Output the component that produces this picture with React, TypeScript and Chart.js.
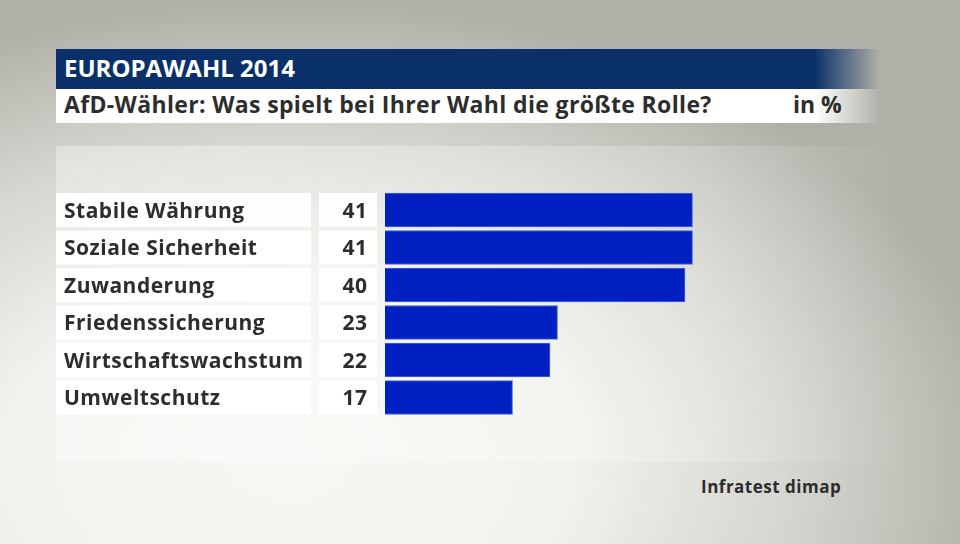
import React, { useEffect, useRef } from "react";
import { Chart, registerables } from "chart.js";

Chart.register(...registerables);

const categories = [
  "Stabile Währung",
  "Soziale Sicherheit",
  "Zuwanderung",
  "Friedenssicherung",
  "Wirtschaftswachstum",
  "Umweltschutz",
];
const values = [41, 41, 40, 23, 22, 17];
const headerText = "EUROPAWAHL 2014";
const subtitleText = "AfD-Wähler: Was spielt bei Ihrer Wahl die größte Rolle?";
const unitText = "in %";
const sourceText = "Infratest dimap";

const FONT = '"Open Sans", "DejaVu Sans", sans-serif';

const rowPlugin = {
  id: "rowBoxes",
  beforeDatasetsDraw(chart: any) {
    const ctx = chart.ctx;
    const yScale = chart.scales.y;
    ctx.save();
    categories.forEach((cat, i) => {
      const yc = yScale.getPixelForValue(i);
      const top = yc - 17;
      ctx.fillStyle = "rgba(255,255,255,0.95)";
      ctx.fillRect(56, top, 255, 34);
      ctx.fillRect(319, top, 58, 34);
      ctx.fillStyle = "#2d2d2d";
      ctx.font = `bold 21px ${FONT}`;
      (ctx as any).letterSpacing = "0.5px";
      ctx.textBaseline = "alphabetic";
      ctx.textAlign = "left";
      ctx.fillText(cat, 64, yc + 7.5);
      ctx.textAlign = "right";
      ctx.fillText(String(values[i]), 367.5, yc + 7.5);
    });
    ctx.restore();
  },
};

function textStyle(
  size: number,
  baseline: number,
  left: number,
  color: string,
  spacing = 0
): React.CSSProperties {
  return {
    position: "absolute",
    left,
    top: baseline - 0.888 * size,
    fontFamily: FONT,
    fontWeight: 700,
    fontSize: size,
    lineHeight: `${size}px`,
    letterSpacing: spacing,
    color,
    whiteSpace: "nowrap",
  };
}

export default function App() {
  const canvasRef = useRef<HTMLCanvasElement | null>(null);

  useEffect(() => {
    document.body.style.margin = "0";
    const canvas = canvasRef.current;
    if (!canvas) return;
    const chart = new Chart(canvas, {
      type: "bar",
      data: {
        labels: categories,
        datasets: [
          {
            data: values,
            backgroundColor: "#0020c2",
            borderColor: "#4a66d6",
            borderWidth: 1,
            barThickness: 34,
            categoryPercentage: 1,
          },
        ],
      },
      options: {
        indexAxis: "y",
        animation: false,
        responsive: false,
        devicePixelRatio: 1,
        layout: {
          padding: { left: 385, right: 125, top: 191.25, bottom: 127.75 },
        },
        plugins: {
          legend: { display: false },
          tooltip: { enabled: false },
          title: { display: false },
        },
        scales: {
          x: { display: false, min: 0, max: 60 },
          y: { display: false },
        },
      },
      plugins: [rowPlugin],
    });
    return () => chart.destroy();
  }, []);

  return (
    <div
      style={{
        position: "relative",
        width: 960,
        height: 544,
        overflow: "hidden",
        background:
          "radial-gradient(ellipse 75% 85% at 30% 85%, #f7f8f4 0%, #f1f1ed 40%, #d6d6d0 70%, #b1b0a8 100%)",
      }}
    >
      <div
        style={{
          position: "absolute",
          left: 56,
          top: 146,
          width: 850,
          height: 316,
          background:
            "linear-gradient(to right, rgba(255,255,255,0.35) 0%, rgba(255,255,255,0.2) 75%, rgba(255,255,255,0) 100%)",
        }}
      />
      <div
        style={{
          position: "absolute",
          left: 56,
          top: 49,
          width: 824,
          height: 40,
          background: "linear-gradient(to right, #0a3069 0%, #0a3069 92%, rgba(10,48,105,0) 100%)",
        }}
      />
      <div
        style={{
          position: "absolute",
          left: 56,
          top: 89,
          width: 824,
          height: 34,
          background: "linear-gradient(to right, #ffffff 0%, #ffffff 92%, rgba(255,255,255,0) 100%)",
        }}
      />
      <div style={textStyle(24, 77, 64, "#ffffff")}>{headerText}</div>
      <div style={textStyle(23, 113, 64, "#2d2d2d", 0.35)}>{subtitleText}</div>
      <div style={textStyle(23, 113, 793, "#2d2d2d")}>{unitText}</div>
      <div style={textStyle(17, 493, 701, "#2d2d2d", 0.5)}>{sourceText}</div>
      <canvas
        ref={canvasRef}
        width={960}
        height={544}
        style={{ position: "absolute", left: 0, top: 0, width: 960, height: 544 }}
      />
    </div>
  );
}
